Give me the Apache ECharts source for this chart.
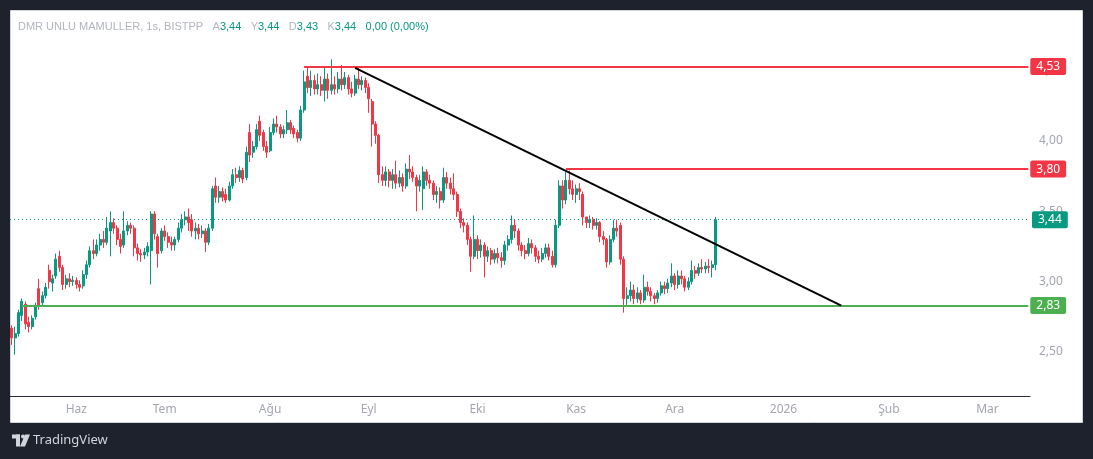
<!DOCTYPE html>
<html>
<head>
<meta charset="utf-8">
<script src="https://cdn.jsdelivr.net/npm/echarts@6/dist/echarts.min.js"></script>
<style>
  html, body { margin: 0; padding: 0; background: #1e222d; }
  #chart { width: 1093px; height: 459px; }
</style>
</head>
<body>
<div id="chart"></div>
<script>
// each row: [open, close, low, high], one bar per column of the reference
const candles = [
  [2.67,2.60,2.55,2.69],[2.60,2.63,2.48,2.68],[2.63,2.78,2.61,2.80],[2.76,2.86,2.72,2.88],[2.84,2.70,2.66,2.86],[2.71,2.68,2.64,2.75],[2.68,2.74,2.66,2.76],[2.75,2.82,2.73,2.85],[2.95,2.83,2.80,3.02],[2.85,2.90,2.82,2.93],
  [2.90,2.96,2.88,2.99],[3.08,3.00,2.95,3.12],[2.99,3.02,2.93,3.05],[3.04,3.16,3.02,3.20],[3.18,3.10,3.07,3.22],[3.10,2.98,2.94,3.12],[2.98,3.02,2.95,3.05],[3.02,3.00,2.96,3.06],[3.00,3.01,2.97,3.04],[3.01,2.98,2.95,3.03],
  [2.98,2.96,2.93,3.01],[2.97,3.05,2.95,3.08],[3.05,3.12,3.02,3.15],[3.12,3.22,3.10,3.25],[3.22,3.20,3.16,3.30],[3.20,3.26,3.18,3.30],[3.26,3.30,3.22,3.34],[3.30,3.28,3.24,3.36],[3.28,3.38,3.26,3.46],[3.36,3.42,3.18,3.50],
  [3.42,3.38,3.34,3.45],[3.38,3.30,3.26,3.40],[3.30,3.25,3.20,3.34],[3.26,3.36,3.24,3.50],[3.36,3.40,3.33,3.43],[3.40,3.38,3.34,3.42],[3.38,3.24,3.18,3.40],[3.24,3.20,3.15,3.27],[3.20,3.19,3.14,3.23],[3.19,3.21,3.16,3.24],
  [3.21,3.25,3.18,3.28],[3.22,3.48,2.98,3.50],[3.48,3.34,3.30,3.50],[3.32,3.20,3.10,3.34],[3.22,3.36,3.20,3.38],[3.36,3.32,3.29,3.40],[3.32,3.28,3.24,3.35],[3.28,3.26,3.22,3.32],[3.26,3.30,3.22,3.32],[3.30,3.38,3.28,3.42],
  [3.38,3.44,3.35,3.48],[3.44,3.46,3.40,3.50],[3.46,3.42,3.36,3.52],[3.44,3.36,3.32,3.48],[3.36,3.38,3.30,3.42],[3.38,3.34,3.30,3.41],[3.34,3.36,3.31,3.40],[3.36,3.28,3.21,3.38],[3.28,3.38,3.26,3.41],[3.38,3.66,3.36,3.68],
  [3.68,3.60,3.56,3.74],[3.60,3.64,3.56,3.68],[3.64,3.60,3.57,3.67],[3.62,3.58,3.56,3.66],[3.58,3.68,3.57,3.71],[3.68,3.76,3.66,3.80],[3.76,3.74,3.70,3.81],[3.74,3.79,3.71,3.82],[3.79,3.73,3.70,3.81],[3.74,3.92,3.72,3.96],
  [4.06,3.90,3.85,4.12],[3.92,3.96,3.88,4.00],[3.96,4.08,3.94,4.12],[4.14,4.04,4.00,4.18],[4.06,3.96,3.93,4.08],[3.96,3.92,3.88,4.00],[3.93,4.06,3.92,4.10],[4.06,4.12,4.04,4.16],[4.12,4.10,4.06,4.18],[4.10,4.05,4.02,4.12],
  [4.05,4.08,4.02,4.11],[4.08,4.13,4.05,4.22],[4.13,4.08,4.05,4.15],[4.09,4.05,4.02,4.11],[4.06,4.02,3.99,4.08],[4.02,4.22,4.00,4.25],[4.22,4.42,4.20,4.50],[4.46,4.38,4.34,4.53],[4.38,4.43,4.32,4.50],[4.43,4.37,4.33,4.47],
  [4.37,4.40,4.33,4.48],[4.40,4.36,4.32,4.46],[4.36,4.44,4.28,4.53],[4.44,4.36,4.30,4.48],[4.36,4.40,4.33,4.58],[4.40,4.37,4.33,4.46],[4.37,4.44,4.34,4.49],[4.44,4.40,4.36,4.54],[4.40,4.45,4.37,4.49],[4.45,4.37,4.33,4.47],
  [4.37,4.34,4.31,4.42],[4.34,4.44,4.32,4.47],[4.44,4.40,4.37,4.52],[4.40,4.43,4.36,4.46],[4.43,4.38,4.34,4.45],[4.38,4.30,4.20,4.41],[4.28,4.12,3.96,4.30],[4.12,4.04,3.98,4.14],[4.04,3.76,3.70,4.05],[3.76,3.72,3.68,3.82],
  [3.72,3.78,3.68,3.82],[3.78,3.72,3.67,3.80],[3.72,3.76,3.66,3.80],[3.76,3.70,3.66,3.86],[3.70,3.74,3.67,3.79],[3.74,3.68,3.64,3.77],[3.68,3.80,3.66,3.84],[3.80,3.78,3.73,3.90],[3.78,3.74,3.71,3.82],[3.74,3.68,3.50,3.76],
  [3.68,3.72,3.64,3.76],[3.66,3.78,3.51,3.82],[3.78,3.72,3.68,3.80],[3.72,3.70,3.66,3.76],[3.70,3.62,3.58,3.72],[3.62,3.64,3.56,3.68],[3.64,3.58,3.52,3.67],[3.58,3.74,3.56,3.81],[3.74,3.70,3.66,3.78],[3.70,3.66,3.62,3.74],
  [3.66,3.62,3.58,3.77],[3.62,3.50,3.46,3.64],[3.50,3.42,3.38,3.52],[3.42,3.40,3.35,3.45],[3.40,3.30,3.26,3.42],[3.30,3.18,3.07,3.32],[3.18,3.30,3.16,3.47],[3.30,3.22,3.16,3.33],[3.22,3.26,3.17,3.30],[3.26,3.18,3.03,3.28],
  [3.18,3.22,3.14,3.25],[3.22,3.16,3.12,3.24],[3.16,3.20,3.13,3.23],[3.20,3.17,3.13,3.24],[3.17,3.15,3.10,3.21],[3.15,3.26,3.12,3.29],[3.26,3.30,3.22,3.33],[3.30,3.40,3.27,3.47],[3.40,3.36,3.31,3.44],[3.36,3.26,3.22,3.38],
  [3.26,3.22,3.18,3.28],[3.22,3.20,3.16,3.26],[3.20,3.27,3.18,3.31],[3.27,3.24,3.20,3.30],[3.24,3.18,3.14,3.26],[3.18,3.16,3.13,3.22],[3.16,3.20,3.14,3.24],[3.20,3.24,3.17,3.27],[3.24,3.18,3.15,3.27],[3.18,3.12,3.10,3.22],
  [3.12,3.40,3.10,3.44],[3.40,3.68,3.38,3.72],[3.68,3.58,3.52,3.72],[3.58,3.72,3.55,3.78],[3.72,3.66,3.62,3.79],[3.66,3.62,3.58,3.72],[3.62,3.66,3.56,3.69],[3.66,3.64,3.58,3.70],[3.62,3.46,3.40,3.64],[3.46,3.42,3.38,3.46],
  [3.42,3.44,3.38,3.47],[3.44,3.40,3.37,3.46],[3.40,3.42,3.37,3.45],[3.42,3.32,3.28,3.43],[3.32,3.30,3.26,3.36],[3.30,3.14,3.10,3.31],[3.14,3.30,3.12,3.33],[3.30,3.38,3.28,3.44],[3.38,3.36,3.32,3.44],[3.40,3.16,3.12,3.42],
  [3.16,2.88,2.78,3.18],[2.88,2.90,2.82,2.96],[2.90,2.94,2.86,3.00],[2.94,2.88,2.84,2.98],[2.88,2.92,2.85,2.96],[2.92,2.87,2.84,2.94],[2.87,2.96,2.85,3.05],[2.96,2.93,2.90,3.00],[2.93,2.90,2.86,2.96],[2.90,2.88,2.84,2.92],
  [2.88,2.92,2.85,2.94],[2.92,2.97,2.90,3.00],[2.97,2.95,2.91,3.00],[2.95,2.99,2.92,3.02],[2.99,3.04,2.96,3.13],[3.04,2.98,2.94,3.06],[2.98,3.04,2.95,3.08],[3.04,3.02,2.98,3.08],[3.02,2.96,2.93,3.04],[2.96,3.00,2.94,3.03],
  [3.00,3.08,2.98,3.15],[3.08,3.06,3.02,3.11],[3.06,3.10,3.04,3.13],[3.10,3.09,3.06,3.16],[3.09,3.11,3.06,3.14],[3.11,3.10,3.06,3.16],[3.10,3.12,3.03,3.15],[3.12,3.44,3.08,3.46]
];

// time axis: bar slots (incl. empty future) and the slot where each month starts
const totalBars = 300;
const monthTicks = { 19: 'Haz', 45: 'Tem', 76: 'Ağu', 105: 'Eyl', 137: 'Eki', 166: 'Kas', 195: 'Ara', 227: '2026', 258: 'Şub', 287: 'Mar' };

const lastBar = { open: 3.44, high: 3.44, low: 3.43, close: 3.44, change: 0.00, changePct: 0.00 };
const lastPrice = 3.44;

// drawn levels: start bar index + price
const resistTop = { from: 86, level: 4.53 };
const resistMid = { from: 163, level: 3.80 };
const support = { from: 3, level: 2.83 };
const trendLine = [[101, 4.52], [244, 2.83]];

const UP = '#089981';
const DOWN = '#f23645';
const GREEN = '#4caf50';

const fmt = (v) => v.toFixed(2).replace('.', ',');
const categories = Array.from({ length: totalBars }, (_, i) => 'b' + i);

function levelLine(lv, color) {
  return [
    {
      coord: [lv.from, lv.level],
      lineStyle: { color: color, width: 2, type: 'solid' },
      label: {
        show: true, position: 'end', distance: 2, formatter: fmt(lv.level),
        color: '#fff', backgroundColor: color, padding: [3, 6, 2, 6], borderRadius: 2,
        fontSize: 12, fontFamily: 'Noto Sans'
      }
    },
    { coord: [totalBars - 1, lv.level] }
  ];
}

const chart = echarts.init(document.getElementById('chart'));

const option = {
  backgroundColor: '#1e222d',
  animation: false,
  textStyle: { fontFamily: 'Noto Sans' },
  title: {
    left: 13,
    top: 13,
    text: '{n|DMR UNLU MAMULLER, 1s, BISTPP}  {n|A}{v|' + fmt(lastBar.open) + '}  {n|Y}{v|' + fmt(lastBar.high) +
      '}  {n|D}{v|' + fmt(lastBar.low) + '}  {n|K}{v|' + fmt(lastBar.close) + '}  {v|' + fmt(lastBar.change) +
      ' (' + fmt(lastBar.changePct) + '%)}',
    textStyle: {
      fontWeight: 'normal',
      rich: {
        n: { color: '#b2b5be', fontSize: 11, fontWeight: 'normal', fontFamily: 'Liberation Sans' },
        v: { color: UP, fontSize: 11, fontWeight: 'normal', fontFamily: 'Liberation Sans' }
      }
    }
  },
  graphic: [
    {
      type: 'rect', z: -10, silent: true,
      shape: { x: 10.5, y: 10.5, width: 1072, height: 412 },
      style: { fill: '#ffffff', stroke: '#d1d4dc', lineWidth: 1 }
    },
    {
      type: 'group', left: 12, top: 434, silent: true,
      children: [
        { type: 'rect', shape: { x: 0, y: 0, width: 8, height: 4 }, style: { fill: '#d1d4dc' } },
        { type: 'rect', shape: { x: 4, y: 0, width: 4, height: 12 }, style: { fill: '#d1d4dc' } },
        { type: 'circle', shape: { cx: 11, cy: 2, r: 2 }, style: { fill: '#d1d4dc' } },
        { type: 'polygon', shape: { points: [[13, 0], [18, 0], [13, 12], [8, 12]] }, style: { fill: '#d1d4dc' } },
        { type: 'text', x: 21, y: 6, style: { text: 'TradingView', fill: '#d1d4dc', font: '13px "Noto Sans"', verticalAlign: 'middle' } }
      ]
    }
  ],
  grid: { left: 10, right: 63, top: 10, bottom: 63 },
  xAxis: {
    type: 'category',
    data: categories,
    boundaryGap: true,
    axisLine: { lineStyle: { color: '#2a2e39', width: 1 } },
    axisTick: { show: false },
    splitLine: { show: false },
    axisLabel: {
      interval: (i) => monthTicks[i] !== undefined,
      formatter: (v, i) => monthTicks[i] || '',
      color: '#a3a6af',
      fontSize: 12,
      margin: 8
    }
  },
  yAxis: {
    type: 'value',
    position: 'right',
    min: 2.187,
    max: 4.931,
    splitNumber: 5,
    axisLine: { show: false },
    axisTick: { show: false },
    splitLine: { show: false },
    axisLabel: {
      showMinLabel: false,
      showMaxLabel: false,
      formatter: fmt,
      color: '#a3a6af',
      fontSize: 12,
      margin: 9
    }
  },
  series: [
    {
      type: 'candlestick',
      data: candles,
      barWidth: 2.4,
      itemStyle: { color: UP, color0: DOWN, borderColor: UP, borderColor0: DOWN, borderWidth: 1 },
      markLine: {
        silent: true,
        symbol: ['none', 'none'],
        animation: false,
        data: [
          {
            yAxis: lastPrice,
            lineStyle: { color: UP, width: 1, type: [1, 3] },
            label: {
              show: true, position: 'end', distance: 2, formatter: fmt(lastPrice),
              color: '#fff', backgroundColor: UP, padding: [3, 6, 2, 6], borderRadius: 2,
              fontSize: 12, fontFamily: 'Noto Sans'
            }
          },
          levelLine(support, GREEN),
          levelLine(resistMid, DOWN),
          levelLine(resistTop, DOWN),
          [
            { coord: trendLine[0], lineStyle: { color: '#000000', width: 2, type: 'solid' }, label: { show: false } },
            { coord: trendLine[1] }
          ]
        ]
      }
    }
  ]
};

chart.setOption(option);
window.addEventListener('resize', () => chart.resize());
</script>
</body>
</html>
